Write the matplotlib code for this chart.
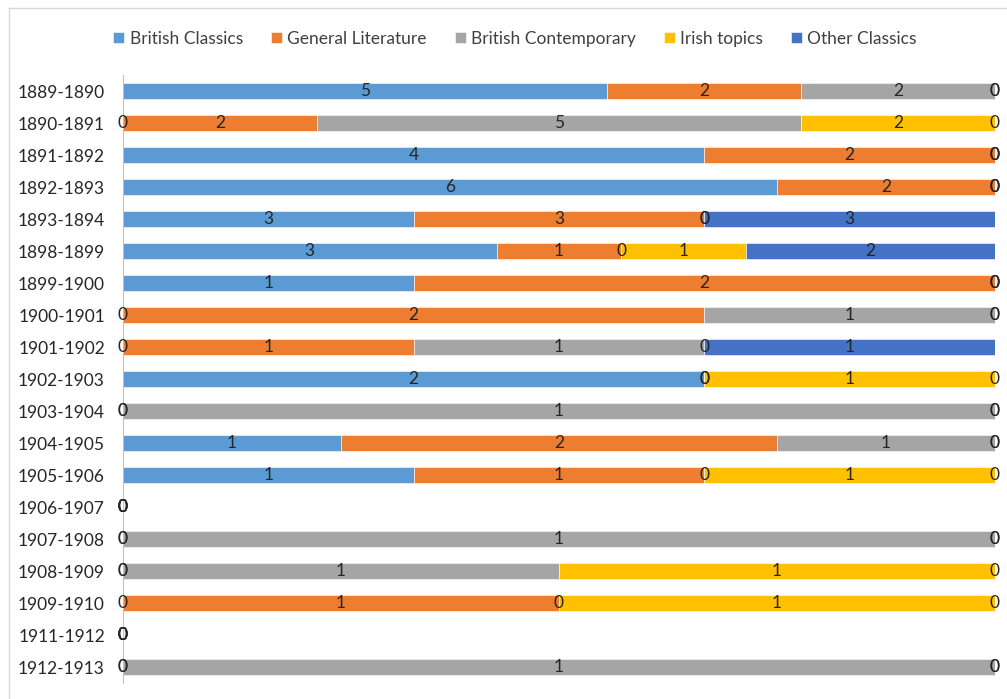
import numpy as np
import matplotlib.pyplot as plt
from matplotlib.lines import Line2D

plt.rcParams['font.family'] = ['Lato', 'DejaVu Sans']

periods = ['1889-1890', '1890-1891', '1891-1892', '1892-1893', '1893-1894',
           '1898-1899', '1899-1900', '1900-1901', '1901-1902', '1902-1903',
           '1903-1904', '1904-1905', '1905-1906', '1906-1907', '1907-1908',
           '1908-1909', '1909-1910', '1911-1912', '1912-1913']

british_classics = [5, 0, 4, 6, 3, 3, 1, 0, 0, 2, 0, 1, 1, 0, 0, 0, 0, 0, 0]
general_literature = [2, 2, 2, 2, 3, 1, 2, 2, 1, 0, 0, 2, 1, 0, 0, 0, 1, 0, 0]
british_contemporary = [2, 5, 0, 0, 0, 0, 0, 1, 1, 0, 1, 1, 0, 0, 1, 1, 0, 0, 1]
irish_topics = [0, 2, 0, 0, 0, 1, 0, 0, 0, 1, 0, 0, 1, 0, 0, 1, 1, 0, 0]
other_classics = [0, 0, 0, 0, 3, 2, 0, 0, 1, 0, 0, 0, 0, 0, 0, 0, 0, 0, 0]

series_names = ['British Classics', 'General Literature', 'British Contemporary',
                'Irish topics', 'Other Classics']
colors = ['#5B9BD5', '#ED7D31', '#A5A5A5', '#FFC000', '#4472C4']

data = np.array([british_classics, general_literature, british_contemporary,
                 irish_topics, other_classics], dtype=float)
totals = data.sum(axis=0)
safe = np.where(totals == 0, 1, totals)
frac = data / safe

fig = plt.figure(figsize=(10.07, 6.99), dpi=100)
ax = fig.add_axes([123 / 1007, 1 - 683 / 699, (995 - 123) / 1007, (683 - 75) / 699])

y = np.arange(len(periods))
left = np.zeros(len(periods))
for i in range(len(series_names)):
    ax.barh(y, frac[i], left=left, height=0.5, color=colors[i],
            edgecolor='white', linewidth=0.4, label=series_names[i])
    for j in range(len(periods)):
        ax.text(left[j] + frac[i][j] / 2, y[j], '%d' % data[i][j],
                ha='center', va='center', fontsize=12.5, color='#262626')
    left = left + frac[i]

ax.set_xlim(0, 1)
ax.set_ylim(len(periods) - 0.5, -0.5)
ax.set_yticks(y)
ax.set_yticklabels(periods, fontsize=12.5, color='#262626')
ax.tick_params(axis='y', length=0, pad=13)
ax.set_xticks([])
for s in ['top', 'right', 'bottom']:
    ax.spines[s].set_visible(False)
ax.spines['left'].set_color('#BFBFBF')

ax.legend(loc='upper center', bbox_to_anchor=(0.5 - 44 / 872, 1 + 60 / 608), ncol=5,
          frameon=False, fontsize=12.5, handlelength=0.65, handleheight=0.65,
          handletextpad=0.3, columnspacing=1.6, labelcolor='#404040')

# chart area border
fig.add_artist(Line2D([9 / 1007, 1], [1 - 8 / 699, 1 - 8 / 699], color='#D9D9D9', lw=1))
fig.add_artist(Line2D([9 / 1007, 9 / 1007], [0, 1 - 8 / 699], color='#D9D9D9', lw=1))

fig.savefig('out.png', dpi=100)
plt.close()
